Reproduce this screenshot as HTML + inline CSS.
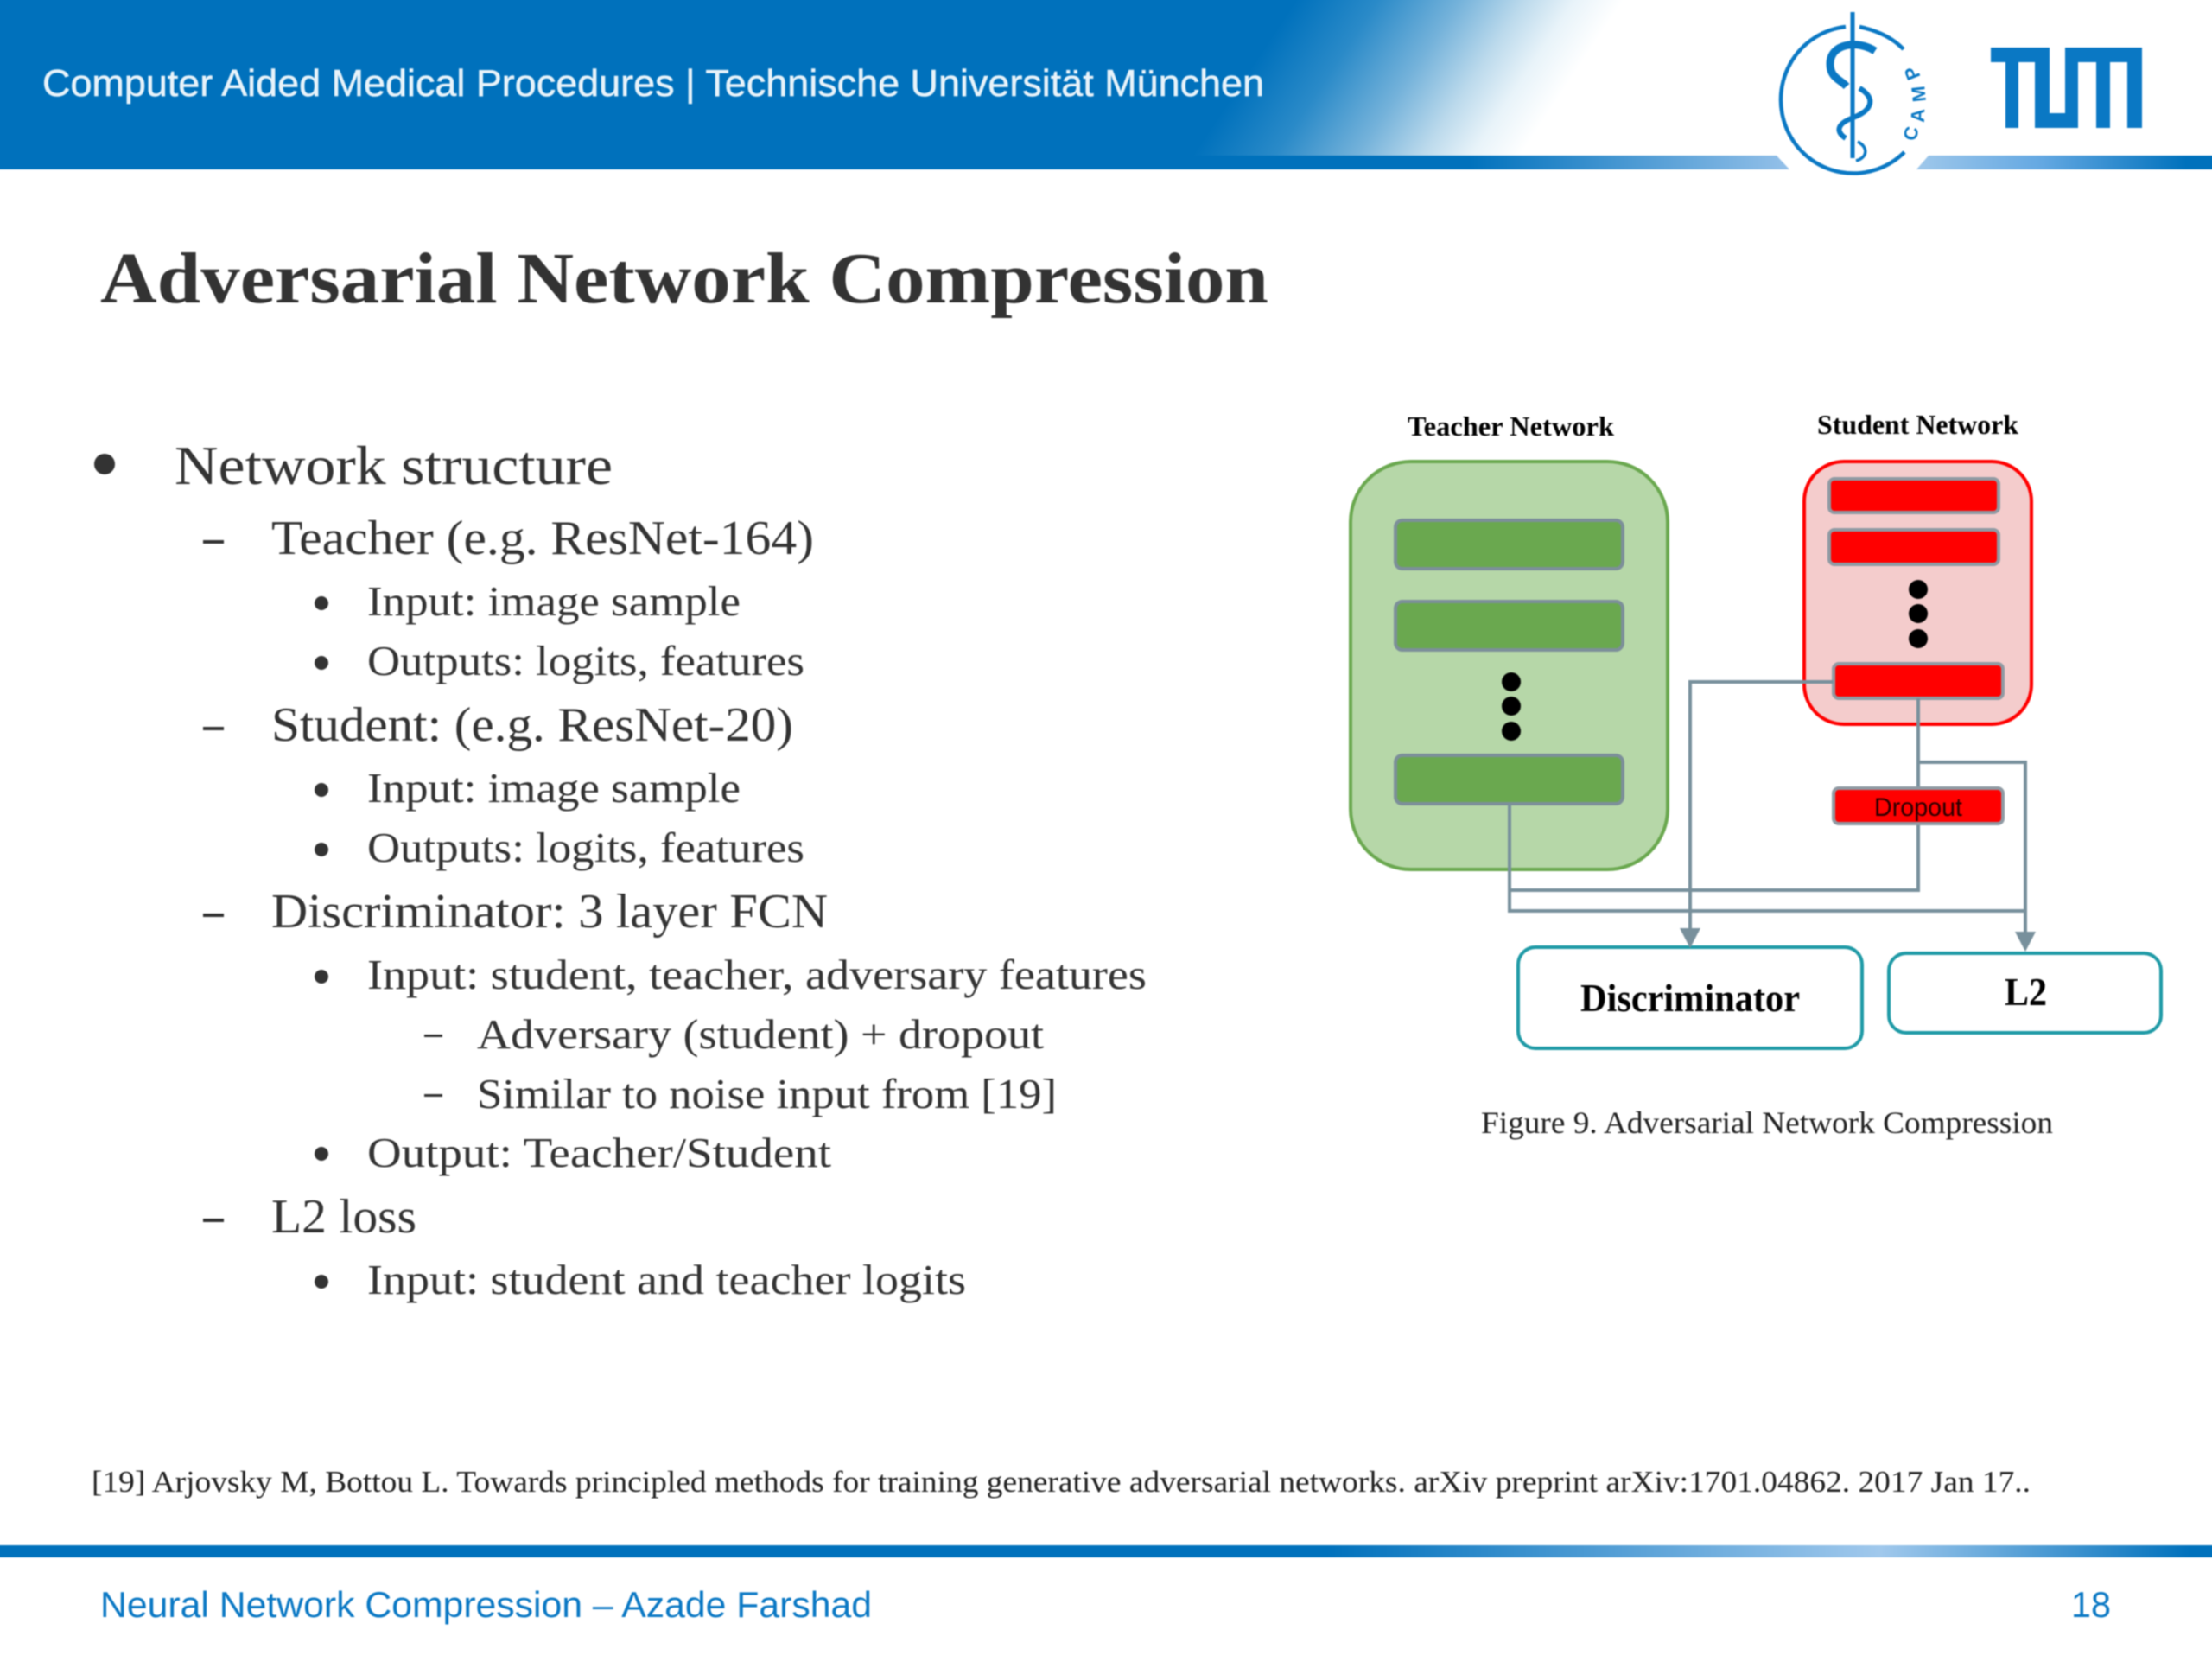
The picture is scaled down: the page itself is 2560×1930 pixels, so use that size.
<!DOCTYPE html>
<html>
<head>
<meta charset="utf-8">
<style>
html,body{margin:0;padding:0;background:#fff;width:2560px;height:1920px;overflow:hidden}
svg{display:block;position:absolute;left:-10px;top:-10px;filter:blur(0.7px)}
.b{font-family:"Liberation Serif",serif;fill:#333}
.s{font-family:"Liberation Sans",sans-serif}
.c{fill:none;stroke:#78909c;stroke-width:4}
.gb{fill:#6aa84f;stroke:#7c8f99;stroke-width:4}
.rb{fill:#ff0000;stroke:#8f9aa3;stroke-width:4}
</style>
</head>
<body>
<svg width="2580" height="1940" viewBox="-10 -10 2580 1940" xmlns="http://www.w3.org/2000/svg">
<defs>
<linearGradient id="hg" x1="1500" y1="0" x2="1763" y2="175" gradientUnits="userSpaceOnUse">
<stop offset="0" stop-color="#0071bc"/><stop offset="0.25" stop-color="#2a8ac8"/><stop offset="0.5" stop-color="#74b2da"/><stop offset="0.7" stop-color="#bcdaec"/><stop offset="0.85" stop-color="#e8f3f9"/><stop offset="1" stop-color="#ffffff"/>
</linearGradient>
<linearGradient id="s1" x1="1700" x2="2065" y1="0" y2="0" gradientUnits="userSpaceOnUse">
<stop offset="0" stop-color="#0071bc"/><stop offset="1" stop-color="#92bfe8"/>
</linearGradient>
<linearGradient id="s2" x1="2225" x2="2530" y1="0" y2="0" gradientUnits="userSpaceOnUse">
<stop offset="0" stop-color="#9cc6ea"/><stop offset="0.45" stop-color="#64a8e2"/><stop offset="1" stop-color="#0071bc"/>
</linearGradient>
<linearGradient id="fg" x1="0" x2="2560" y1="0" y2="0" gradientUnits="userSpaceOnUse">
<stop offset="0" stop-color="#0071bc"/><stop offset="0.6" stop-color="#0071bc"/><stop offset="0.85" stop-color="#a0c8ec"/><stop offset="0.99" stop-color="#0071bc"/><stop offset="1" stop-color="#0071bc"/>
</linearGradient>
</defs>

<!-- header -->
<rect x="-10" y="-10" width="2580" height="191" fill="url(#hg)"/>
<polygon points="-10,180 2056,180 2071,196 -10,196" fill="url(#s1)"/>
<polygon points="2232,180 2570,180 2570,196 2218,196" fill="url(#s2)"/>
<text class="s" x="49" y="111" font-size="44" fill="#e8f3fa" stroke="#e8f3fa" stroke-width="0.5" textLength="1414" lengthAdjust="spacingAndGlyphs">Computer Aided Medical Procedures | Technische Universität München</text>

<!-- CAMP logo -->
<g fill="none" stroke="#0a78c4">
<path d="M2136 31 A 84 85 0 1 0 2204 176" stroke-width="4.5"/>
<path d="M2152 31 Q2185 38 2203 57" stroke-width="4.5"/>
<line x1="2144" y1="14" x2="2144" y2="183" stroke-width="5"/>
<path d="M2170 59 C2150 46 2118 50 2118 74 C2118 90 2130 92 2137 100" stroke-width="9"/>
<path d="M2152 102 C2172 114 2166 128 2145 136 C2126 143 2124 152 2136 160" stroke-width="6"/>
<path d="M2150 164 C2162 170 2162 182 2148 186" stroke-width="3.5"/>
</g>
<g class="s" fill="#0a78c4" font-size="22" font-weight="bold" text-anchor="middle">
<text transform="translate(2219,156) rotate(-78)">C</text>
<text transform="translate(2227,134) rotate(-88)">A</text>
<text transform="translate(2228,108) rotate(-96)">M</text>
<text transform="translate(2220,82) rotate(-112)">P</text>
</g>

<!-- TUM logo -->
<g fill="#0a78c4">
<rect x="2304" y="55" width="68" height="17"/>
<rect x="2321" y="55" width="15" height="93"/>
<rect x="2355" y="55" width="17" height="93"/>
<rect x="2355" y="131" width="50" height="17"/>
<rect x="2390" y="55" width="15" height="93"/>
<rect x="2390" y="55" width="89" height="17"/>
<rect x="2426" y="55" width="16" height="93"/>
<rect x="2462" y="55" width="17" height="93"/>
</g>

<!-- title -->
<text x="116" y="350" font-family="'Liberation Serif',serif" font-weight="bold" font-size="84" fill="#333" textLength="1352" lengthAdjust="spacingAndGlyphs">Adversarial Network Compression</text>

<!-- body -->
<circle cx="121" cy="537" r="12" fill="#333"/>
<text class="b" x="202" y="560" font-size="64" textLength="507" lengthAdjust="spacingAndGlyphs">Network structure</text>

<g fill="#333">
<rect x="235" y="625" width="24" height="4"/>
<rect x="235" y="841" width="24" height="4"/>
<rect x="235" y="1057" width="24" height="4"/>
<rect x="235" y="1410" width="24" height="4"/>
<circle cx="372" cy="698" r="8"/>
<circle cx="372" cy="767" r="8"/>
<circle cx="372" cy="914" r="8"/>
<circle cx="372" cy="983" r="8"/>
<circle cx="372" cy="1130" r="8"/>
<circle cx="372" cy="1335" r="8"/>
<circle cx="372" cy="1483" r="8"/>
<rect x="491" y="1197" width="21" height="3"/>
<rect x="491" y="1266" width="21" height="3"/>
</g>

<g class="b" font-size="56">
<text x="314" y="641" textLength="628" lengthAdjust="spacingAndGlyphs">Teacher (e.g. ResNet-164)</text>
<text x="314" y="857" textLength="604" lengthAdjust="spacingAndGlyphs">Student: (e.g. ResNet-20)</text>
<text x="314" y="1073" textLength="644" lengthAdjust="spacingAndGlyphs">Discriminator: 3 layer FCN</text>
<text x="314" y="1426" textLength="168" lengthAdjust="spacingAndGlyphs">L2 loss</text>
</g>
<g class="b" font-size="49">
<text x="425" y="712" textLength="432" lengthAdjust="spacingAndGlyphs">Input: image sample</text>
<text x="425" y="781" textLength="506" lengthAdjust="spacingAndGlyphs">Outputs: logits, features</text>
<text x="425" y="928" textLength="432" lengthAdjust="spacingAndGlyphs">Input: image sample</text>
<text x="425" y="997" textLength="506" lengthAdjust="spacingAndGlyphs">Outputs: logits, features</text>
<text x="425" y="1144" textLength="902" lengthAdjust="spacingAndGlyphs">Input: student, teacher, adversary features</text>
<text x="552" y="1213" textLength="656" lengthAdjust="spacingAndGlyphs">Adversary (student) + dropout</text>
<text x="552" y="1282" textLength="671" lengthAdjust="spacingAndGlyphs">Similar to noise input from [19]</text>
<text x="425" y="1350" textLength="537" lengthAdjust="spacingAndGlyphs">Output: Teacher/Student</text>
<text x="425" y="1497" textLength="693" lengthAdjust="spacingAndGlyphs">Input: student and teacher logits</text>
</g>

<!-- diagram -->
<text x="1629" y="504" font-family="'Liberation Serif',serif" font-weight="bold" font-size="32" fill="#000" textLength="239" lengthAdjust="spacingAndGlyphs">Teacher Network</text>
<text x="2103" y="502" font-family="'Liberation Serif',serif" font-weight="bold" font-size="32" fill="#000" textLength="233" lengthAdjust="spacingAndGlyphs">Student Network</text>

<rect x="1563" y="534" width="367" height="472" rx="70" ry="70" fill="#b6d7a8" stroke="#6aa84f" stroke-width="4"/>
<rect class="gb" x="1615" y="602" width="263" height="56" rx="8"/>
<rect class="gb" x="1615" y="696" width="263" height="56" rx="8"/>
<rect class="gb" x="1615" y="874" width="263" height="56" rx="8"/>
<g fill="#000">
<circle cx="1749" cy="789" r="11"/><circle cx="1749" cy="817" r="11"/><circle cx="1749" cy="846" r="11"/>
</g>

<rect x="2088" y="534" width="263" height="304" rx="46" ry="46" fill="#f4cccc" stroke="#ff0000" stroke-width="4"/>
<rect class="rb" x="2117" y="554" width="196" height="39" rx="6"/>
<rect class="rb" x="2117" y="613" width="196" height="40" rx="6"/>
<rect class="rb" x="2122" y="768" width="196" height="40" rx="6"/>
<g fill="#000">
<circle cx="2220" cy="682" r="11"/><circle cx="2220" cy="710" r="11"/><circle cx="2220" cy="739" r="11"/>
</g>

<!-- connectors -->
<path class="c" d="M2122 789 H1956 V1078"/>
<path class="c" d="M2220 808 V910 M2220 951 V1030 H1747"/>
<path class="c" d="M1747 930 V1054 H2344"/>
<path class="c" d="M2220 882 H2344 V1082"/>

<rect class="rb" x="2122" y="912" width="196" height="41" rx="6"/>
<text class="s" x="2169" y="944" font-size="30" fill="#2a0000" textLength="102" lengthAdjust="spacingAndGlyphs">Dropout</text>

<rect x="1757" y="1096" width="398" height="117" rx="20" fill="#fff" stroke="#1f9aa6" stroke-width="4"/>
<polygon points="1944,1074 1968,1074 1956,1097" fill="#78909c"/>
<text x="1829" y="1170" font-family="'Liberation Serif',serif" font-weight="bold" font-size="45" fill="#000" textLength="254" lengthAdjust="spacingAndGlyphs">Discriminator</text>
<rect x="2186" y="1103" width="315" height="92" rx="20" fill="#fff" stroke="#1f9aa6" stroke-width="4"/>
<polygon points="2332,1078 2356,1078 2344,1101" fill="#78909c"/>
<text x="2320" y="1163" font-family="'Liberation Serif',serif" font-weight="bold" font-size="45" fill="#000" textLength="49" lengthAdjust="spacingAndGlyphs">L2</text>

<text x="1714" y="1311" font-family="'Liberation Serif',serif" font-size="36" fill="#222" textLength="662" lengthAdjust="spacingAndGlyphs">Figure 9. Adversarial Network Compression</text>

<!-- reference -->
<text x="106" y="1726" font-family="'Liberation Serif',serif" font-size="35" fill="#222" textLength="2244" lengthAdjust="spacingAndGlyphs">[19] Arjovsky M, Bottou L. Towards principled methods for training generative adversarial networks. arXiv preprint arXiv:1701.04862. 2017 Jan 17..</text>

<!-- footer -->
<rect x="-10" y="1788" width="2580" height="14" fill="url(#fg)"/>
<text class="s" x="116" y="1871" font-size="42" fill="#0a78c4" textLength="893" lengthAdjust="spacingAndGlyphs">Neural Network Compression – Azade Farshad</text>
<text class="s" x="2397" y="1871" font-size="42" fill="#0a78c4" textLength="46" lengthAdjust="spacingAndGlyphs">18</text>
</svg>
</body>
</html>
